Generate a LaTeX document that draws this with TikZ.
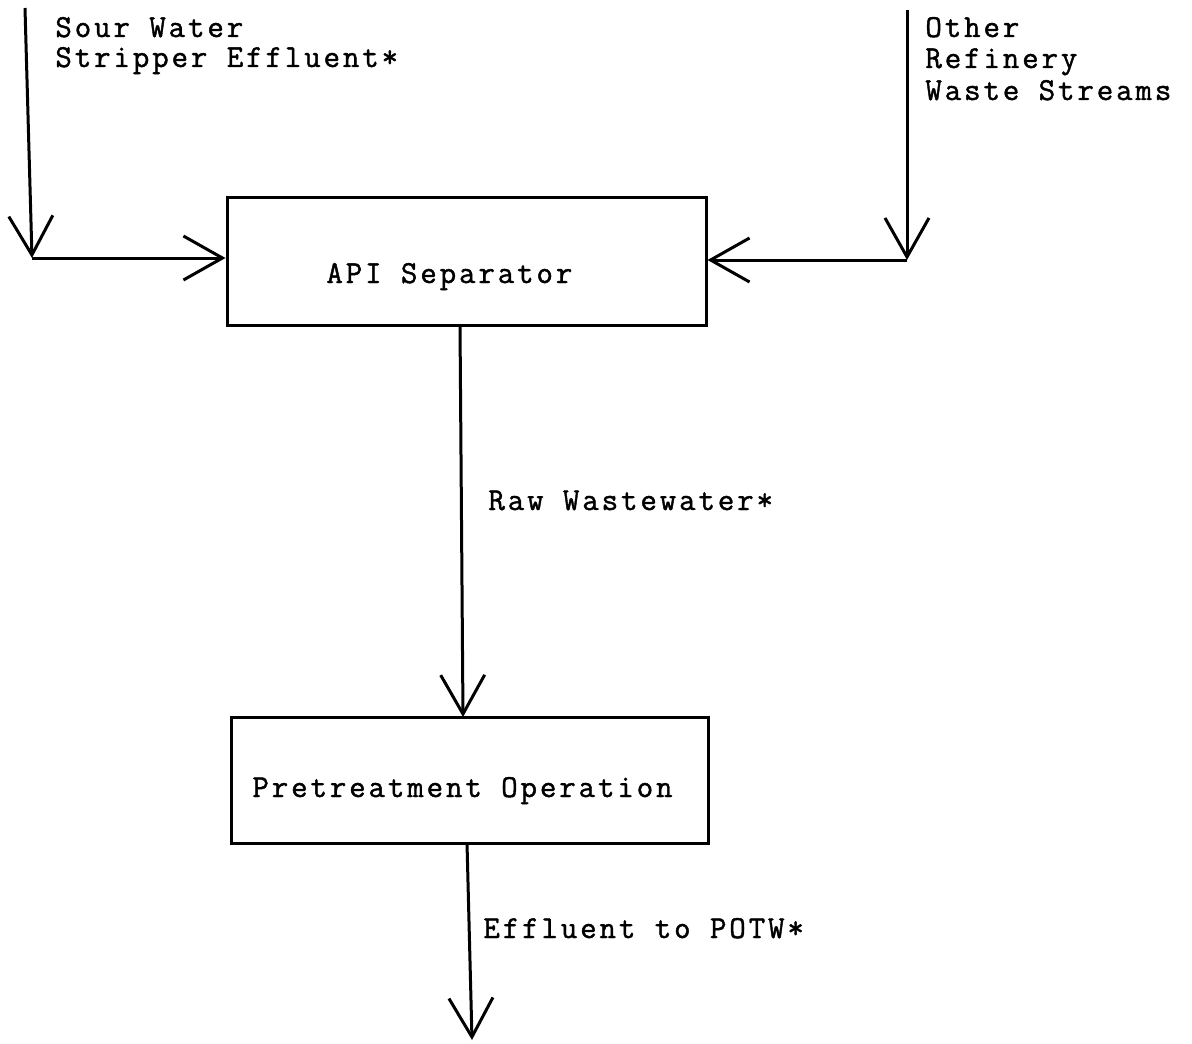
\documentclass[tikz,border=0pt]{standalone}
\usepackage{fontspec}
\setmonofont[LetterSpace=9,FakeBold=1.3]{Latin Modern Mono}
\usetikzlibrary{arrows.meta}

\begin{document}
\begin{tikzpicture}[x=0.5pt,y=-0.5pt,
  lbl/.style={anchor=base west,inner sep=0pt,font=\ttfamily\fontsize{16pt}{16pt}\selectfont},
  unit/.style={draw,line width=1.5pt,minimum width=#1,inner sep=0pt},
  flow/.style={line width=1.5pt,-{Straight Barb[length=19.5pt,width=22pt]}}]
  \useasboundingbox (0,0) rectangle (1192,1043);

  % process boxes
  \node[unit=239.5pt,minimum height=63.5pt] (api) at (466.5,261.5) {};
  \node[unit=238.5pt,minimum height=63pt] (pre) at (469.5,780) {};
  \node[lbl] (apitxt) at (326,283) {API Separator};
  \node[lbl] (pretxt) at (252,797) {Pretreatment Operation};

  % incoming streams
  \coordinate (swtop) at (25,8);
  \coordinate (swj) at (32,258);
  \coordinate (ortop) at (907,10);
  \coordinate (orj) at (907,260);
  \node[lbl] (sw1) at (55,37) {Sour Water};
  \node[lbl] (sw2) at (55,67) {Stripper Effluent*};
  \node[lbl] (or1) at (925,37) {Other};
  \node[lbl] (or2) at (925,68) {Refinery};
  \node[lbl] (or3) at (925,100) {Waste Streams};

  \draw[flow] (swtop) -- (swj);
  \draw[flow] (swj) -- (swj -| api.west);
  \draw[flow] (ortop) -- (orj);
  \draw[flow] (orj) -- (orj -| api.east);

  % separator to pretreatment
  \coordinate (rawtop) at (460,325);
  \coordinate (rawend) at (463,717);
  \draw[flow] (rawtop) -- (rawend);
  \node[lbl] (rawtxt) at (488,510) {Raw Wastewater*};

  % discharge
  \coordinate (outtop) at (467,843);
  \coordinate (outend) at (472,1040);
  \draw[flow] (outtop) -- (outend);
  \node[lbl] (outtxt) at (483,938) {Effluent to POTW*};
\end{tikzpicture}
\end{document}
